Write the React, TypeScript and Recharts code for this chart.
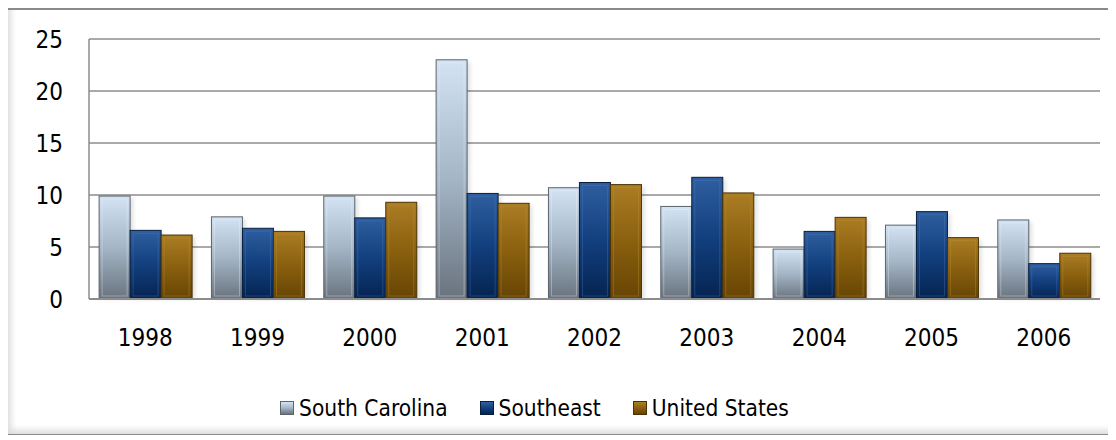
import React from "react";
import { BarChart, Bar, XAxis, YAxis, CartesianGrid, Legend } from "recharts";

const years = ["1998", "1999", "2000", "2001", "2002", "2003", "2004", "2005", "2006"];
const southCarolina = [9.9, 7.9, 9.9, 23.0, 10.7, 8.9, 4.8, 7.1, 7.6];
const southeast = [6.6, 6.8, 7.8, 10.15, 11.2, 11.7, 6.5, 8.4, 3.4];
const unitedStates = [6.15, 6.5, 9.3, 9.2, 11.0, 10.2, 7.85, 5.9, 4.4];
const yTicks = [0, 5, 10, 15, 20, 25];

const seriesNames = ["South Carolina", "Southeast", "United States"];
const seriesKeys = ["sc", "se", "us"];

const data = years.map((y, i) => ({
  year: y,
  sc: southCarolina[i],
  se: southeast[i],
  us: unitedStates[i],
}));

const styles: Record<string, { top: string; mid: string; bottom: string; stroke: string; hl: string }> = {
  sc: { top: "#d3e3f3", mid: "#a4b5c6", bottom: "#69737e", stroke: "#5c646c", hl: "#eef5fc" },
  se: { top: "#2f5fa0", mid: "#123f7e", bottom: "#052450", stroke: "#0a1e3c", hl: "#4f7fbf" },
  us: { top: "#ab7d24", mid: "#8a600f", bottom: "#664404", stroke: "#4a3204", hl: "#c4963c" },
};

const FONT = "Tahoma, 'DejaVu Sans Condensed', 'DejaVu Sans', sans-serif";

const makeShape = (key: string) => (props: any) => {
  const { x, y, width, height } = props;
  if (height == null || height <= 0) return null;
  const s = styles[key];
  const inset = 3;
  return (
    <g>
      <rect x={x + 3} y={y + 2} width={width} height={height - 2} fill="#000" opacity={0.12} filter="url(#blur)" />
      <rect x={x} y={y} width={width} height={height} fill={`url(#grad-${key})`} stroke={s.stroke} strokeWidth={1} />
      {height > 2 * inset + 2 && (
        <rect
          x={x + inset}
          y={y + inset}
          width={Math.max(0, width - 2 * inset)}
          height={Math.max(0, height - 2 * inset)}
          fill="none"
          stroke={s.hl}
          strokeOpacity={0.35}
          strokeWidth={1}
        />
      )}
    </g>
  );
};

const LegendContent = () => (
  <div
    style={{
      height: 50,
      display: "flex",
      alignItems: "center",
      justifyContent: "center",
      paddingRight: 40,
      boxSizing: "border-box",
      fontFamily: FONT,
      fontSize: 22.5,
      color: "#000",
    }}
  >
    {seriesKeys.map((k, i) => {
      const s = styles[k];
      return (
        <div key={k} style={{ display: "flex", alignItems: "center", marginRight: i < 2 ? 32 : 0 }}>
          <div
            style={{
              width: 14,
              height: 14,
              background: `linear-gradient(${s.top}, ${s.mid}, ${s.bottom})`,
              border: `1px solid ${s.stroke}`,
              marginRight: 5,
              boxSizing: "border-box",
            }}
          />
          <span>{seriesNames[i]}</span>
        </div>
      );
    })}
  </div>
);

export default function App() {
  return (
    <div
      style={{
        position: "relative",
        marginLeft: -2,
        width: 1108,
        height: 427,
        boxSizing: "border-box",
        border: "1px solid #8a8a8a",
        borderTop: "2px solid #8a8a8a",
        boxShadow: "inset 7px -7px 6px -3px rgba(0,0,0,0.14)",
        background: "#fff",
      }}
    >
      <div style={{ position: "absolute", left: 2, top: -1 }}>
        <BarChart
          width={1098}
          height={424}
          data={data}
          margin={{ top: 30, right: 7, bottom: 0, left: 0 }}
          barCategoryGap="9%"
          barGap={0}
        >
          <defs>
            {seriesKeys.map((k) => (
              <linearGradient key={k} id={`grad-${k}`} x1="0" y1="0" x2="0" y2="1">
                <stop offset="0%" stopColor={styles[k].top} />
                <stop offset="50%" stopColor={styles[k].mid} />
                <stop offset="100%" stopColor={styles[k].bottom} />
              </linearGradient>
            ))}
            <filter id="blur" x="-50%" y="-50%" width="200%" height="200%">
              <feGaussianBlur stdDeviation="2" />
            </filter>
          </defs>
          <CartesianGrid vertical={false} stroke="#8c8c8c" strokeWidth={1.5} />
          <XAxis
            dataKey="year"
            height={84}
            tickLine={false}
            tickSize={0}
            tickMargin={30}
            axisLine={{ stroke: "#8c8c8c", strokeWidth: 2 }}
            tick={{ fill: "#000", fontSize: 24, fontFamily: FONT }}
          />
          <YAxis
            width={80}
            domain={[0, 25]}
            ticks={yTicks}
            interval={0}
            tickLine={false}
            tickSize={0}
            tickMargin={26}
            axisLine={{ stroke: "#8c8c8c", strokeWidth: 1.5 }}
            tick={{ fill: "#000", fontSize: 24, fontFamily: FONT }}
          />
          <Legend verticalAlign="bottom" height={50} content={<LegendContent />} />
          {seriesKeys.map((k, i) => (
            <Bar
              key={k}
              dataKey={k}
              name={seriesNames[i]}
              fill={styles[k].mid}
              shape={makeShape(k)}
              isAnimationActive={false}
            />
          ))}
        </BarChart>
      </div>
    </div>
  );
}
